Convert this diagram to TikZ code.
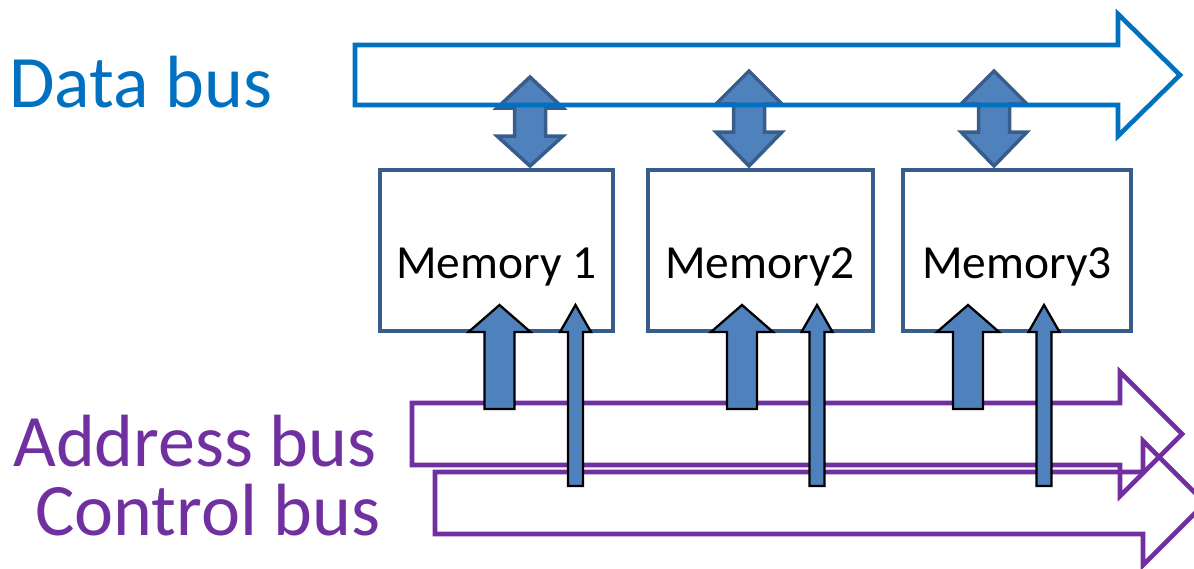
\documentclass[tikz,border=0pt]{standalone}
\usepackage{fontspec}
\setmainfont{Carlito}
\definecolor{databus}{HTML}{0070C0}
\definecolor{ctrlbus}{HTML}{7030A0}
\definecolor{blockfill}{HTML}{4F81BD}
\definecolor{blockline}{HTML}{385D8A}
\tikzset{
  buslabel/.style={inner sep=0pt, anchor=base west, font=\fontsize{74}{88}\selectfont},
  membox/.style={draw=blockline, line width=4pt, minimum height=161pt, inner sep=0pt},
  memtext/.style={inner sep=0pt, anchor=base, font=\fontsize{47.5}{57}\selectfont},
  dblarrow/.style={draw=blockline, fill=blockfill, line width=3.5pt, line join=miter},
  uparrow/.style={draw=black, fill=blockfill, line width=2.3pt, line join=miter},
  busoutline/.style={line width=4.6pt, line join=miter, miter limit=10},
}
% vertical double block arrow: x, tip top, upper head base, lower head base, tip bottom
\newcommand\vdblarrow[5]{%
  \draw[dblarrow] (#1,#2) -- (#1+33,#3) -- (#1+15.5,#3) -- (#1+15.5,#4) -- (#1+33,#4)
    -- (#1,#5) -- (#1-33,#4) -- (#1-15.5,#4) -- (#1-15.5,#3) -- (#1-33,#3) -- cycle;}
% upward block arrow: x, head half width, shaft half width, bottom
\newcommand\upblock[4]{%
  \draw[uparrow] (#1,305) -- (#1+#2,332) -- (#1+#3,332) -- (#1+#3,#4) -- (#1-#3,#4)
    -- (#1-#3,332) -- (#1-#2,332) -- cycle;}
\begin{document}
\begin{tikzpicture}[x=1pt, y=-1pt]
\useasboundingbox (0,0) rectangle (1194,568);

% labels
\node[buslabel, text=databus] (ldata) at (9,107) {Data bus};
\node[buslabel, text=ctrlbus] (laddr) at (13,466) {Address bus};
\node[buslabel, text=ctrlbus] (lctrl) at (35,535) {Control bus};

% memory modules
\node[membox, minimum width=233pt] (m1) at (496.5,250.5) {};
\node[membox, minimum width=225pt] (m2) at (760.5,250.5) {};
\node[membox, minimum width=228pt] (m3) at (1017,250.5) {};
\node[memtext] (t1) at (496.5,278) {Memory 1};
\node[memtext] (t2) at (760,278) {Memory2};
\node[memtext] (t3) at (1017,278) {Memory3};

% data bus links
\vdblarrow{530}{77}{108}{136}{166}
\vdblarrow{749}{71}{104}{132}{166}
\vdblarrow{994}{71}{104}{132}{166}

% data bus
\draw[busoutline, draw=databus] (355,45) -- (1118,45) -- (1118,14) -- (1180,75)
  -- (1118,136) -- (1118,105) -- (355,105) -- cycle;

% address bus
\draw[busoutline, draw=ctrlbus] (412,403) -- (1120,403) -- (1120,372) -- (1182,434)
  -- (1120,496) -- (1120,465) -- (412,465) -- cycle;

% control bus
\draw[busoutline, draw=ctrlbus] (435,472) -- (1143,472) -- (1143,441) -- (1205,503)
  -- (1143,565) -- (1143,534) -- (435,534) -- cycle;

% address lines (wide) and control lines (narrow)
\upblock{499.5}{31}{15}{409}
\upblock{742}{31}{15}{409}
\upblock{968}{31}{15}{409}
\upblock{575.5}{15.5}{7.5}{486}
\upblock{817}{15.5}{7.5}{486}
\upblock{1044}{15.5}{7.5}{486}
\end{tikzpicture}
\end{document}
